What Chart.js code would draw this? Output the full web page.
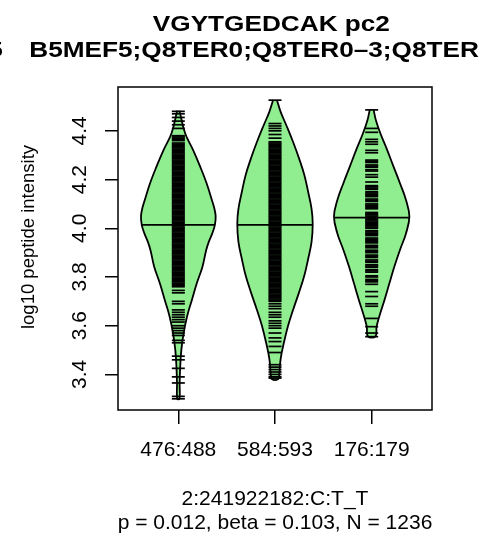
<!DOCTYPE html>
<html><head><meta charset="utf-8">
<script src="https://cdn.jsdelivr.net/npm/chart.js@4.4.1/dist/chart.umd.min.js"></script>
<style>html,body{margin:0;padding:0;background:#fff}#wrap{width:489px;height:543px;position:relative}</style>
</head><body><div id="wrap"><canvas id="c" width="489" height="543"></canvas></div>
<script>
// ---------- text ----------
const titleLine1 = 'VGYTGEDCAK pc2 ';
const titlePrefix = 'Q8TER0–5';
const titleLine2 = 'B5MEF5;Q8TER0;Q8TER0–3;Q8TER';
const yAxisTitle = 'log10 peptide intensity';
const footLine1 = '2:241922182:C:T_T';
const footLine2 = 'p = 0.012, beta = 0.103, N = 1236';

// ---------- data ----------
const categories = ['476:488', '584:593', '176:179'];
const yTicks = [3.4, 3.6, 3.8, 4.0, 4.2, 4.4];
const medians = [4.014, 4.014, 4.044];

// bean outline: levels (log10 intensity) and relative density
const beanLevels1 = [4.483, 4.390, 4.322, 4.253, 4.185, 4.116, 4.085, 4.050, 4.014, 3.979, 3.945, 3.911, 3.842, 3.774, 3.706, 3.637, 3.569, 3.500, 3.432, 3.363, 3.300];
const beanDensity1 = [0.03, 0.18, 0.39, 0.58, 0.75, 0.89, 0.95, 0.99, 0.97, 0.90, 0.81, 0.74, 0.64, 0.49, 0.36, 0.23, 0.14, 0.08, 0.05, 0.035, 0.03];
const beanLevels2 = [4.527, 4.478, 4.423, 4.354, 4.286, 4.218, 4.149, 4.080, 4.019, 3.944, 3.875, 3.807, 3.738, 3.670, 3.602, 3.533, 3.464, 3.396, 3.380];
const beanDensity2 = [0.05, 0.15, 0.30, 0.48, 0.64, 0.78, 0.88, 0.97, 1.00, 0.97, 0.88, 0.78, 0.64, 0.49, 0.35, 0.24, 0.15, 0.11, 0.08];
const beanLevels3 = [4.487, 4.445, 4.390, 4.322, 4.253, 4.185, 4.116, 4.048, 3.979, 3.911, 3.842, 3.774, 3.706, 3.637, 3.596, 3.556];
const beanDensity3 = [0.05, 0.11, 0.23, 0.41, 0.58, 0.75, 0.91, 1.00, 0.91, 0.75, 0.60, 0.47, 0.34, 0.20, 0.13, 0.10];

// individual observations (bean lines)
const values1 = [4.48, 4.47, 4.455, 4.44, 4.425, 4.41,
  4.38, 4.375, 4.37, 4.365, 4.36, 4.35, 4.345, 4.34, 4.335, 4.33, 4.325, 4.32, 4.315, 4.31, 4.305, 4.30, 4.295, 4.29, 4.285, 4.28, 4.275, 4.27, 4.265, 4.26, 4.255, 4.25, 4.245, 4.24, 4.235, 4.23, 4.225, 4.22, 4.215, 4.21, 4.205, 4.20,
  4.195, 4.19, 4.185, 4.18, 4.175, 4.17, 4.165, 4.16, 4.155, 4.15, 4.145, 4.14, 4.135, 4.13, 4.125, 4.12, 4.115, 4.11, 4.105, 4.10, 4.095, 4.09, 4.085, 4.08, 4.075, 4.07, 4.065, 4.06,
  4.055, 4.05, 4.045, 4.04, 4.035, 4.03, 4.025, 4.02, 4.015, 4.01, 4.005, 4.00, 3.995, 3.99, 3.985, 3.98, 3.975, 3.97, 3.965, 3.96, 3.955, 3.95, 3.945, 3.94, 3.935, 3.93, 3.925, 3.92,
  3.915, 3.91, 3.905, 3.90, 3.895, 3.89, 3.885, 3.88, 3.875, 3.87, 3.865, 3.86, 3.855, 3.85, 3.845, 3.84, 3.835, 3.83, 3.825, 3.82, 3.815, 3.81, 3.805, 3.80, 3.795, 3.79, 3.785, 3.78, 3.775, 3.77, 3.765, 3.76,
  3.745, 3.735, 3.70, 3.69, 3.665, 3.655, 3.645, 3.635, 3.625, 3.615, 3.60, 3.59, 3.58, 3.57, 3.56, 3.54, 3.53, 3.475, 3.46, 3.425, 3.39, 3.365, 3.31, 3.30];
const values2 = [4.526, 4.43, 4.42, 4.41, 4.40, 4.385, 4.37,
  4.355, 4.35, 4.345, 4.34, 4.335, 4.33, 4.325, 4.32, 4.315, 4.31, 4.305, 4.30, 4.295, 4.29, 4.285, 4.28, 4.275, 4.27, 4.265, 4.26, 4.255, 4.25, 4.245, 4.24, 4.235, 4.23, 4.225, 4.22, 4.215, 4.21, 4.205, 4.20,
  4.195, 4.19, 4.185, 4.18, 4.175, 4.17, 4.165, 4.16, 4.155, 4.15, 4.145, 4.14, 4.135, 4.13, 4.125, 4.12, 4.115, 4.11, 4.105, 4.10, 4.095, 4.09, 4.085, 4.08, 4.075, 4.07, 4.065, 4.06,
  4.055, 4.05, 4.045, 4.04, 4.035, 4.03, 4.025, 4.02, 4.015, 4.01, 4.005, 4.00, 3.995, 3.99, 3.985, 3.98, 3.975, 3.97, 3.965, 3.96, 3.955, 3.95, 3.945, 3.94, 3.935, 3.93, 3.925, 3.92,
  3.915, 3.91, 3.905, 3.90, 3.895, 3.89, 3.885, 3.88, 3.875, 3.87, 3.865, 3.86, 3.855, 3.85, 3.845, 3.84, 3.835, 3.83, 3.825, 3.82, 3.815, 3.81, 3.805, 3.80, 3.795, 3.79, 3.785, 3.78,
  3.775, 3.77, 3.765, 3.76, 3.755, 3.75, 3.745, 3.74, 3.735, 3.73, 3.725, 3.72, 3.715, 3.71, 3.705, 3.70, 3.69, 3.68, 3.67,
  3.655, 3.645, 3.635, 3.62, 3.61, 3.60, 3.59, 3.57, 3.55, 3.535, 3.515, 3.49, 3.44, 3.43, 3.42, 3.41, 3.40, 3.39, 3.385];
const values3 = [4.486, 4.41, 4.394, 4.365, 4.355, 4.345, 4.32, 4.31,
  4.28, 4.275, 4.27, 4.26, 4.255, 4.25, 4.24, 4.235, 4.22, 4.21, 4.19,
  4.175, 4.17, 4.165, 4.16, 4.15, 4.145, 4.14, 4.135, 4.13, 4.12, 4.115, 4.11, 4.10, 4.095, 4.09, 4.085, 4.08,
  4.065, 4.06, 4.055, 4.05, 4.045, 4.04, 4.035, 4.03, 4.025, 4.02, 4.015, 4.01, 4.005, 4.00, 3.99, 3.985, 3.98, 3.975, 3.97, 3.96, 3.955, 3.95, 3.945, 3.94, 3.93, 3.925, 3.92, 3.91, 3.905, 3.90,
  3.89, 3.885, 3.88, 3.87, 3.865, 3.86, 3.85, 3.845, 3.84, 3.83, 3.825, 3.82, 3.805, 3.80, 3.79, 3.785, 3.78, 3.77,
  3.74, 3.72, 3.69, 3.68, 3.63, 3.596, 3.57, 3.555];

const beanLevels = [beanLevels1, beanLevels2, beanLevels3];
const beanDensity = [beanDensity1, beanDensity2, beanDensity3];
const observations = [values1, values2, values3];

// ---------- style ----------
const beanHalfWidth = 0.39;      // x units
const fillColor = '#90EE90';
const FONT = '"Liberation Sans", Arial, Helvetica, sans-serif';

function widthAt(i, v) {
  const lv = beanLevels[i], dn = beanDensity[i];
  for (let k = 0; k < lv.length - 1; k++) {
    if (v <= lv[k] && v >= lv[k + 1]) {
      const t = (lv[k] - v) / (lv[k] - lv[k + 1]);
      return (dn[k] + t * (dn[k + 1] - dn[k])) * beanHalfWidth;
    }
  }
  return 0;
}

const datasets = [];
categories.forEach((c, i) => {
  const m = medians[i], hw = widthAt(i, m);
  datasets.push({
    type: 'scatter', order: 1, showLine: true, borderColor: '#000', borderWidth: 1.8,
    pointRadius: 0, data: [{x: i + 1 - hw, y: m}, {x: i + 1 + hw, y: m}]
  });
});
categories.forEach((c, i) => {
  datasets.push({
    type: 'scatter', order: 2, showLine: false, pointStyle: 'line', pointRadius: 6.5,
    pointBorderWidth: 1.7, pointBorderColor: '#000', pointBackgroundColor: 'rgba(0,0,0,0)',
    data: observations[i].map(v => ({x: i + 1, y: v}))
  });
});
categories.forEach((c, i) => {
  const lv = beanLevels[i], dn = beanDensity[i];
  const right = lv.map((v, k) => ({x: i + 1 + dn[k] * beanHalfWidth, y: v}));
  const left = lv.map((v, k) => ({x: i + 1 - dn[k] * beanHalfWidth, y: v})).reverse();
  datasets.push({
    type: 'scatter', order: 3, showLine: true, fill: 'shape', backgroundColor: fillColor,
    borderColor: '#000', borderWidth: 1.8, pointRadius: 0, tension: 0.4,
    data: right.concat(left)
  });
});

const textPlugin = {
  id: 'rtext',
  afterDraw(chart) {
    const ctx = chart.ctx, a = chart.chartArea;
    const ys = chart.scales.y, xs = chart.scales.x;
    ctx.save();
    ctx.strokeStyle = '#000'; ctx.lineWidth = 1.5;
    ctx.strokeRect(a.left, a.top, a.right - a.left, a.bottom - a.top);
    ctx.fillStyle = '#000';
    const cx = (a.left + a.right) / 2;
    // title (wide bold face)
    const sx = 1.19;
    ctx.font = 'bold 22px ' + FONT;
    ctx.textBaseline = 'alphabetic';
    ctx.save();
    ctx.scale(sx, 1);
    ctx.textAlign = 'center';
    ctx.fillText(titleLine1, cx / sx, 31);
    ctx.textAlign = 'left';
    ctx.fillText(titleLine2, 29.3 / sx, 56.5);
    ctx.textAlign = 'right';
    ctx.fillText(titlePrefix, 2.7 / sx, 56.5);
    ctx.restore();
    ctx.textBaseline = 'middle';
    ctx.font = '21px ' + FONT;
    ctx.textAlign = 'center';
    categories.forEach((c, i) => ctx.fillText(c, xs.getPixelForValue(i + 1), 450));
    ctx.fillText(footLine1, cx, 499);
    ctx.fillText(footLine2, cx, 523);
    yTicks.forEach(v => {
      ctx.save();
      ctx.translate(80, ys.getPixelForValue(v));
      ctx.rotate(-Math.PI / 2);
      ctx.fillText(v.toFixed(1), 0, 0);
      ctx.restore();
    });
    ctx.save();
    ctx.font = '18.5px ' + FONT;
    ctx.translate(29, 237);
    ctx.rotate(-Math.PI / 2);
    ctx.fillText(yAxisTitle, 0, 0);
    ctx.restore();
    ctx.restore();
  }
};

new Chart(document.getElementById('c'), {
  type: 'scatter',
  data: {datasets},
  options: {
    responsive: false, animation: false, devicePixelRatio: 1,
    layout: {padding: {top: 87, right: 57, left: 0, bottom: 0}},
    plugins: {legend: {display: false}, tooltip: {enabled: false}, title: {display: false}},
    scales: {
      x: {
        type: 'linear', min: 0.376, max: 3.624,
        afterBuildTicks: s => { s.ticks = categories.map((c, i) => ({value: i + 1})); },
        afterFit: s => { s.height = 133; },
        ticks: {display: false},
        grid: {drawOnChartArea: false, drawTicks: true, tickLength: 14, color: '#000', lineWidth: 1.5},
        border: {display: false}
      },
      y: {
        type: 'linear', min: 3.254, max: 4.58,
        afterBuildTicks: s => { s.ticks = yTicks.map(v => ({value: v})); },
        afterFit: s => { s.width = 118; },
        ticks: {display: false},
        grid: {drawOnChartArea: false, drawTicks: true, tickLength: 13, color: '#000', lineWidth: 1.5},
        border: {display: false}
      }
    }
  },
  plugins: [textPlugin]
});
</script>
</body></html>
